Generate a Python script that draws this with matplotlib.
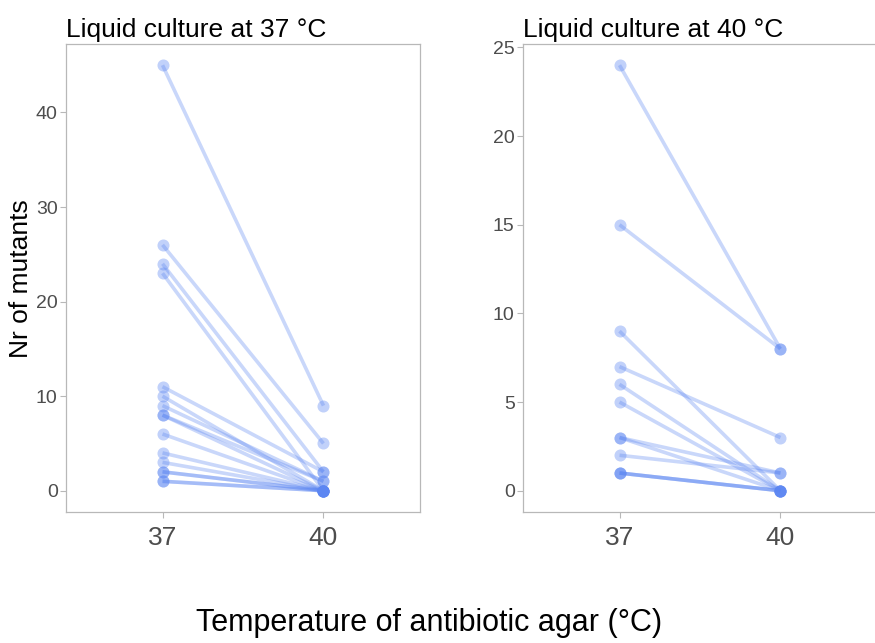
import matplotlib
matplotlib.use("Agg")
import matplotlib.pyplot as plt
from matplotlib import font_manager

# paired counts: mutants on 37 °C agar vs 40 °C agar, per culture
left_title = "Liquid culture at 37 °C"
left_37 = [45, 26, 24, 23, 11, 10, 9, 8, 8, 6, 4, 3, 2, 2, 1, 1]
left_40 = [9, 5, 2, 0, 2, 0, 1, 1, 0, 0, 0, 0, 0, 0, 0, 0]
left_yticks = [0, 10, 20, 30, 40]

right_title = "Liquid culture at 40 °C"
right_37 = [24, 15, 9, 7, 6, 5, 3, 3, 2, 1, 1, 1]
right_40 = [8, 8, 0, 3, 0, 0, 1, 0, 1, 0, 0, 0]
right_yticks = [0, 5, 10, 15, 20, 25]

temps = ["37", "40"]

names = {f.name for f in font_manager.fontManager.ttflist}
narrow = "Liberation Sans Narrow" if "Liberation Sans Narrow" in names else "Liberation Sans"
plt.rcParams["font.family"] = "Liberation Sans"

blue = "#5C86F2"
frame = "#B8B8B8"


def pair_panel(ax, before, after, yticks, title):
    for a, b in zip(before, after):
        ax.plot([1, 2], [a, b], color=blue, alpha=0.33, linewidth=2.6,
                solid_capstyle="butt", zorder=2)
    ax.scatter([1] * len(before), before, s=75, color=blue, alpha=0.38,
               linewidths=0, zorder=3)
    ax.scatter([2] * len(after), after, s=75, color=blue, alpha=0.38,
               linewidths=0, zorder=3)
    top = max(before)
    pad = top * 0.05
    ax.set_ylim(-pad, top + pad)
    ax.set_xlim(0.4, 2.6)
    ax.set_xticks([1, 2])
    ax.set_xticklabels(temps, fontfamily=narrow, fontsize=19, color="#4D4D4D")
    ax.set_yticks(yticks)
    ax.set_yticklabels([str(t) for t in yticks], fontsize=14, color="#4D4D4D")
    ax.tick_params(axis="both", color=frame, length=4, width=0.8)
    ax.tick_params(axis="x", pad=6)
    ax.tick_params(axis="y", pad=2)
    for sp in ax.spines.values():
        sp.set_color(frame)
        sp.set_linewidth(0.9)
    ax.set_title(title, loc="left", fontsize=19, pad=5)


fig = plt.figure(figsize=(8.75, 6.43), dpi=100)
ax1 = fig.add_axes([0.0754, 0.2037, 0.4046, 0.728])
ax2 = fig.add_axes([0.5977, 0.2037, 0.4046, 0.728])

pair_panel(ax1, left_37, left_40, left_yticks, left_title)
pair_panel(ax2, right_37, right_40, right_yticks, right_title)

fig.text(0.024, 0.566, "Nr of mutants", rotation=90, ha="center", va="center",
         fontsize=19)
fig.text(0.49, 0.031, "Temperature of antibiotic agar (°C)", ha="center",
         va="center", fontfamily=narrow, fontsize=22)

fig.savefig("out.png", dpi=100, facecolor="white")
